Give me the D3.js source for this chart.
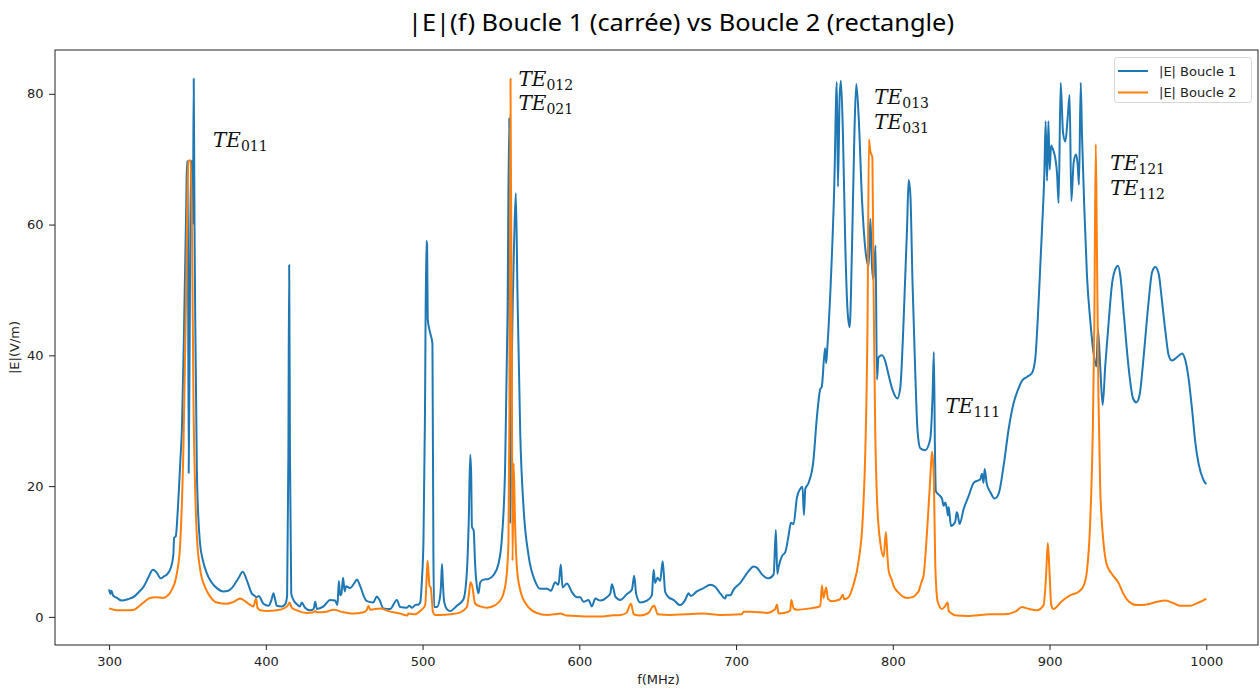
<!DOCTYPE html>
<html><head><meta charset="utf-8">
<script src="https://cdn.jsdelivr.net/npm/d3@7"></script>
<style>
html,body{margin:0;padding:0;background:#fff;}
svg{display:block;}
</style></head>
<body>
<svg id="chart" width="1260" height="690"></svg>
<script>
// ---------------- DATA ----------------
const chartTitle = "|E|(f) Boucle 1 (carrée) vs Boucle 2 (rectangle)";
const xLabel = "f(MHz)";
const yLabel = "|E|(V/m)";
const seriesNames = ["|E| Boucle 1", "|E| Boucle 2"];
const xTicks = [300, 400, 500, 600, 700, 800, 900, 1000];
const yTicks = [0, 20, 40, 60, 80];

// Boucle 1 (carrée): frequency (MHz) and |E| (V/m)
const freq1 = [300,300.8,301.5,302.5,305,308,312,316,319,322,325,328,330,333,335,337,339.5,341,341.5,342.5,344,345.5,346.5,347.9,349.2,349.7,350.2,350.8,351.6,352.3,353.2,353.5,354,354.5,355,356,357,358,360,362.3,365,368.7,373,376,378.3,382.5,385.3,387.9,391,393,394.2,395.5,398.5,401.7,403.5,404.9,406,407,410.2,412.5,413.6,414.4,414.9,415.4,416.2,417.6,419.5,421.8,422.9,425,428.3,430.5,431.5,432.6,436.8,441,444.2,445.7,446.6,447.4,448.2,449.3,450.3,451.2,453.8,456,458.3,459.7,461,462.3,464.5,468.5,470.8,472.5,475,479.3,483.6,485.7,490,491.5,493.2,495.3,497.4,498.5,499.6,500.6,501.5,502.4,502.9,503.3,504.8,506.3,506.9,507.4,509.1,511,511.8,512.4,513,513.8,515.5,517.6,521.9,526.1,528.3,529.5,530.4,531,531.5,532.6,533.6,534.5,535.7,536.8,538.9,542,545.3,548.4,550.6,552.7,554.2,555.3,555.9,557,558.5,559.5,560.6,562.3,564.4,567.6,571.9,575,579.4,581.9,584.6,586.7,588.2,589.3,592.1,595.3,598.5,600.6,602.7,605.9,608,610.2,613.4,617.6,619.8,620.8,621.8,623,626.1,630.4,633.6,635,636.3,638.9,643.1,646.3,647.4,648.4,649.9,651.6,653.2,654.8,657,660.1,664.4,667.6,669.7,671.2,675,679.3,683.5,686.7,689.9,693.1,693.8,696.3,698.5,702.7,708,711.2,713.4,716.5,720.8,724,725.4,726.3,727.1,729.3,731.4,733.5,735,736.7,738.8,741,742.4,743.3,744.2,746.1,749.3,751.6,753.7,754.7,756.8,757.5,758.3,760.4,762.6,764.3,765,766.1,766.9,768.2,769.7,771.2,772.5,774,775.5,776.7,778.2,780.4,782.5,784.6,785.7,786.8,787.7,789,789.9,790.9,793.1,795.2,797.4,800,803,804.8,806.9,809.1,810.1,811.2,812.6,814.4,815.8,817.5,820.7,823.9,825.4,826.2,826.9,827.5,829.3,831.4,832.4,833.5,834.6,835.2,835.7,837.1,839.8,840.8,841.3,842.6,845.2,848.4,851.6,853.7,855.8,856.9,857.9,858.6,860,862.2,865,867.5,870.7,873.9,877.1,880.3,882.4,885.6,888.8,890.9,893,895.2,896.7,897.5,898.4,899.3,900.1,901,902.2,903.7,904.8,905.8,907.1,908.6,910.1,911.6,912.8,913.9,915.4,916.9,918,918.8,919.9,920.7,922.2,923.9,926,928.1,929.9,930.9,932.4,933.9,935.6,937.8,939.9,942,943.7,945.2,947.3,950.5,953.3,955.4,957.5,960,963.2,965.4,967.5,969.6,971.8,973.9,976,978.2,981.3,984.5,986.7,988.8,990.9,993,995.2,998.3,1000];
const boucle1 = [4.2,3.5,4.0,3.3,2.9,2.5,2.7,3.1,3.8,4.6,6.0,7.2,6.9,5.9,6.2,6.5,7.6,9.5,12.1,12.3,17,24,29,45,62.5,69.7,69.7,22,50,69.7,69.7,60,82.3,60,45,22.6,15,11.3,8.5,6.7,5.4,4.4,3.9,4.0,4.4,5.9,6.9,5.6,3.6,3.2,3.0,3.2,2.0,1.7,2.5,3.6,2.6,1.7,1.6,2.0,3.3,25,53.8,25,3.6,2.6,2.0,1.6,2.2,1.4,1.0,1.2,2.3,1.2,1.6,2.6,2.5,1.8,5.5,3.3,3.5,6.0,3.9,4.7,4.4,5.0,5.7,5.0,4.2,3.3,2.4,2.2,3.1,2.6,1.3,1.2,2.6,1.5,1.4,1.7,1.4,1.8,1.9,2.2,5.7,12,30,57.5,57,45.5,43.5,41.8,10,1.5,1.5,2.8,5,8.1,5,2.3,1.2,0.9,1.7,2.7,7.0,15,24.8,22,13.8,13.2,7.7,5,3.6,5.3,5.7,5.8,6.4,8.1,12,23.3,45.9,76.4,14.3,40,58,64.8,48.8,28.2,16.8,9.4,5.4,4.3,4.3,4.0,5.3,4.9,8.0,4.5,5.1,3.8,3.0,3.0,2.3,2.6,1.6,2.8,2.5,3.0,3.6,5.0,4.3,3.1,2.6,3.5,4.2,6.3,3.5,2.2,2.5,3.3,7.2,5.2,6.0,5.5,8.5,3.8,3.0,2.6,1.8,2.6,3.6,3.2,3.9,4.4,4.9,4.6,3.6,2.8,3.3,3.3,4.2,5.2,7.0,7.7,7.5,6.5,5.9,6.5,13.3,6.6,7.6,9.3,9.9,12.4,14.4,14.2,18.2,19.6,19.9,15.6,19.6,20.4,23.8,30.6,34.8,35.2,41.1,38.8,41.4,51,65.3,81.8,65.8,79.5,82,73.8,56.8,46.6,44.3,56.8,73.8,81.5,76.6,63.6,56.2,53.6,60.9,53.3,51.6,56.8,36.3,39.7,40.0,39.1,36.9,34.6,33.4,35.1,45.3,59.5,66.8,64.6,51,36.9,28.4,25.8,25.5,27.2,34,40.5,25.5,19.2,18.7,18.1,17.0,17.5,16.4,15.5,16.8,13.9,14.5,16,15.8,14.2,16.5,18.5,20.5,20.8,21.0,21.9,20.5,22.6,20.3,19.1,18.1,18.8,23.1,28.7,32.7,35,36.1,36.7,37.3,39.5,48,59.3,67.8,75.8,66.7,75.8,68.4,72.1,71.5,70.1,67.8,63.3,81.7,74.1,72.7,76.4,79.8,63.6,69.5,70.7,69,66.1,81.7,73.8,62.4,52.1,45.3,40.3,38.3,44,38,32.4,38.6,45.3,51,53.2,53.7,52.1,46.5,38,33.4,32.8,34,39.7,48.2,52.7,53.5,52.5,48.2,43.7,40,39.2,39.7,40.3,39.2,36.3,31.8,26.7,23.3,20.9,20.3];

// Boucle 2 (rectangle): frequency (MHz) and |E| (V/m)
const freq2 = [300,303,306,310,316,319,322,326,330,334.4,337,338.7,340.5,341.9,343.5,345.3,347.4,349.1,350.4,350.8,352.1,353,353.8,354.9,356,358.1,361.3,364.5,368.7,375.1,379.4,383.6,386.8,389,392.1,393.8,394.7,396.4,400.6,407,412.3,414.4,415.1,416.6,419.8,426.2,430.4,431.5,432.5,438.9,443.1,449.5,455.9,462.3,464.5,465.5,466.6,473,477,479.4,485.8,490.4,490.8,495.3,498.5,501.7,502.6,503.2,504.4,505.3,506.6,508.1,511.3,517.7,524.1,528.3,529.6,530.6,531.5,533.6,536.8,541.1,546.4,550.6,553.4,554.8,555.5,556.1,557,557.4,558.1,559,560.2,562.3,566.5,572.9,579.3,584.6,587.8,592,598,605.2,613.7,620,626.4,630,633,634.7,638.9,644.2,646.9,647.8,650,658,668,679.2,689.9,703.7,704.8,709,715.4,719.7,725,726.1,727.1,732.5,734.6,735.2,736.7,738.8,747.3,753.7,754.8,755.8,757.5,758.6,761.1,766.4,768.1,769,771.8,774.9,778.1,780.9,782.5,783.9,784.8,785.6,787,787.7,788.8,789.9,792,794.2,795.6,796.6,797.4,799.3,800.6,803.6,809,813.3,815.4,816.5,817.5,818.7,819.7,821.4,822.2,823.6,824.3,825.1,826.2,827.1,828.6,831.4,833.5,835,835.7,836.4,841,847.5,851.6,862.2,870.7,878.2,882.4,885.6,892,896.2,897.8,898.9,900,901.1,902.5,907.8,913.1,918.4,921.6,923.8,925.9,927.6,928.6,929.5,930.1,931.2,932.3,933.3,934.4,936.5,939.7,944,947.2,950.4,955.7,962.1,968.5,973.8,978.1,983.4,989.8,994.1,998.7,1000];
const boucle2 = [1.3,1.1,1.0,1.0,1.1,1.6,2.2,2.9,3.0,2.9,3.2,3.6,4.4,5.2,7.0,10.9,25.5,48.8,68.8,69.8,69.8,56.9,34,19.8,12.4,7.3,4.5,3.1,2.2,2.0,2.3,2.8,2.4,2.0,1.6,2.8,1.4,1.0,0.9,1.0,1.4,1.9,2.2,1.4,1.0,0.6,0.7,0.9,0.7,0.8,1.1,0.7,0.5,0.7,1.1,1.7,1.1,1.3,1.0,0.8,0.5,0.2,0.5,0.4,0.9,1.8,6,8.6,4.8,4.4,0.8,0.3,0.3,0.4,0.7,1.5,3.5,5.3,4.9,2.0,1.6,1.4,1.8,2.9,5.8,11.5,34.2,82.3,34,8.6,23.5,14.4,7.5,4.1,1.8,0.6,0.3,0.4,0.5,0.2,0.15,0.05,0.05,0.2,0.3,0.6,2.0,0.4,0.2,0.6,1.6,1.7,0.4,0.3,0.4,0.5,0.3,0.4,0.8,0.8,0.7,0.6,1.2,1.9,0.5,0.7,1.0,2.6,1.3,1.1,1.3,1.6,4.8,2.9,4.5,2.8,2.4,2.7,3.4,2.7,3.0,4.9,8.4,15.4,25.6,45.4,73.0,71.3,70.2,51.1,28.4,18.2,11.4,9.2,13,9.2,7.0,5.7,4.7,3.7,2.9,3.1,3.6,3.9,4.7,5.6,6.4,11.4,14.4,19.9,23,25.3,21,8,2.4,1.2,1.7,2.2,0.9,0.7,0.2,0.15,0.2,0.4,0.4,0.8,1.5,1.3,1.0,1.8,6.3,11.3,6.8,1.8,1.2,2.4,3.3,3.8,4.7,6.9,14.3,28.5,45.4,72.3,59.6,34,19.9,14.8,11.4,8.0,6.6,5.2,3.5,2.4,1.8,1.9,2.3,2.5,2.2,1.7,1.7,2.1,2.6,2.8];

// Mode annotations (anchor in data units: frequency, |E|)
const modeLabels = [
  {f: 366.3, v: 71.9, sub: "011"},
  {f: 561.2, v: 81.2, sub: "012"},
  {f: 561.2, v: 77.6, sub: "021"},
  {f: 788.2, v: 78.4, sub: "013"},
  {f: 788.2, v: 74.6, sub: "031"},
  {f: 833.6, v: 31.2, sub: "111"},
  {f: 938.8, v: 68.3, sub: "121"},
  {f: 938.8, v: 64.6, sub: "112"}
];

// ---------------- CHART ----------------
(function draw() {
const svg = d3.select("#chart");
const W = 1260, H = 690;
const mL = 55, mR = 1258, mT = 50, mB = 645;

const x = d3.scaleLinear().domain([265.5, 1033]).range([mL, mR]);
const y = d3.scaleLinear().domain([-4.3, 86.7]).range([mB, mT]);

svg.append("rect").attr("width", W).attr("height", H).attr("fill", "#fff");

// Title
svg.append("text")
  .attr("x", 681).attr("y", 31)
  .attr("text-anchor", "middle")
  .attr("font-family", "'Noto Sans', 'Open Sans', sans-serif")
  .attr("font-size", 23)
  .attr("fill", "#000")
  .attr("textLength", 546)
  .attr("lengthAdjust", "spacingAndGlyphs")
  .text(chartTitle);

const tickFont = "'DejaVu Sans', sans-serif";

// X axis
const xAxis = svg.append("g").attr("transform", `translate(0,${mB})`)
  .call(d3.axisBottom(x).tickValues(xTicks).tickFormat(d3.format("d")).tickSize(5).tickPadding(6.5));
xAxis.select(".domain").remove();
xAxis.selectAll("line").attr("stroke", "#222").attr("stroke-width", 1);
xAxis.selectAll("text").attr("font-family", tickFont).attr("font-size", 13).attr("fill", "#222");

// Y axis
const yAxis = svg.append("g").attr("transform", `translate(${mL},0)`)
  .call(d3.axisLeft(y).tickValues(yTicks).tickFormat(d3.format("d")).tickSize(6).tickPadding(5.5));
yAxis.select(".domain").remove();
yAxis.selectAll("line").attr("stroke", "#222").attr("stroke-width", 1);
yAxis.selectAll("text").attr("font-family", tickFont).attr("font-size", 13).attr("fill", "#222");

// Axis labels
svg.append("text")
  .attr("x", (mL + mR) / 2 + 2).attr("y", 684)
  .attr("text-anchor", "middle")
  .attr("font-family", tickFont).attr("font-size", 13).attr("fill", "#222")
  .text(xLabel);
svg.append("text")
  .attr("transform", `translate(19,${(mT + mB) / 2}) rotate(-90)`)
  .attr("text-anchor", "middle")
  .attr("font-family", tickFont).attr("font-size", 13).attr("fill", "#222")
  .text(yLabel);

// Lines
const colors = ["#1f77b4", "#ff7f0e"];
const line = d3.line().curve(d3.curveMonotoneX).x(d => x(d[0])).y(d => y(d[1]));
const s1 = freq1.map((f, i) => [f, boucle1[i]]);
const s2 = freq2.map((f, i) => [f, boucle2[i]]);
[s1, s2].forEach((s, i) => {
  svg.append("path").datum(s)
    .attr("d", line)
    .attr("fill", "none")
    .attr("stroke", colors[i])
    .attr("stroke-width", 2)
    .attr("stroke-linejoin", "round")
    .attr("stroke-linecap", "butt");
});

// Frame (spines)
svg.append("rect")
  .attr("x", mL).attr("y", mT)
  .attr("width", mR - mL).attr("height", mB - mT)
  .attr("fill", "none").attr("stroke", "#222").attr("stroke-width", 1);

// Mode annotations (TE_mnp)
const ann = svg.append("g");
modeLabels.forEach(m => {
  const t = ann.append("text")
    .attr("x", x(m.f)).attr("y", y(m.v))
    .attr("font-family", "'DejaVu Serif', 'Liberation Serif', serif")
    .attr("fill", "#111");
  t.append("tspan").attr("font-style", "italic").attr("font-size", 20).text("TE");
  t.append("tspan").attr("font-size", 14).attr("dy", 4).text(m.sub);
});

// Legend
const lg = svg.append("g");
lg.append("rect")
  .attr("x", 1114.5).attr("y", 57.5).attr("width", 137).attr("height", 45)
  .attr("rx", 3).attr("fill", "#fff").attr("fill-opacity", 0.8)
  .attr("stroke", "#d6d6d6").attr("stroke-width", 1);
seriesNames.forEach((name, i) => {
  const cy = 71 + i * 21.5;
  lg.append("line").attr("x1", 1118).attr("x2", 1148).attr("y1", cy).attr("y2", cy)
    .attr("stroke", colors[i]).attr("stroke-width", 2);
  lg.append("text").attr("x", 1159).attr("y", cy + 4.7)
    .attr("font-family", tickFont).attr("font-size", 13).attr("fill", "#222")
    .text(name);
});
})();
</script>
</body></html>
